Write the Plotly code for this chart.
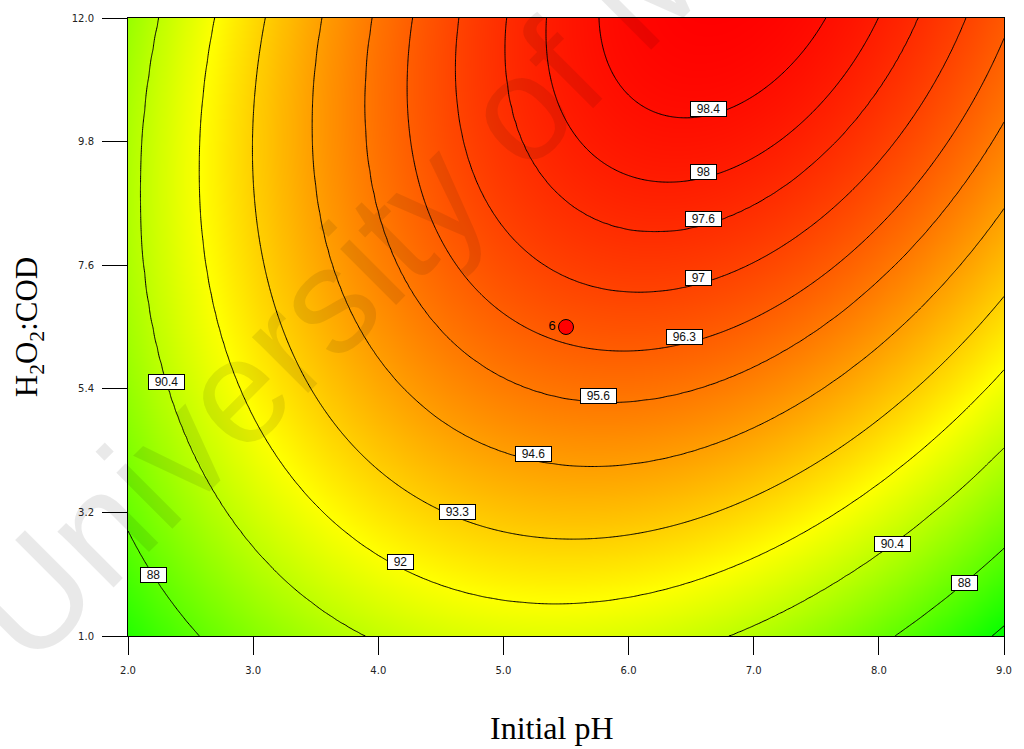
import numpy as np
import plotly.graph_objects as go

# Quadratic response-surface model for removal (%):
# z = b0 + b1*pH + b2*R + b11*pH^2 + b22*R^2 + b12*pH*R   (R = H2O2:COD)
model_terms = ["intercept", "pH", "ratio", "pH^2", "ratio^2", "pH*ratio"]
model_coefs = [78.32, 4.466, 0.818, -0.427, -0.0582, 0.1025]

# Factor ranges
ph_range = [2.0, 9.0]
ratio_range = [1.0, 12.0]

# Contour levels drawn as lines
contour_levels = [85.9, 88.0, 90.4, 92.0, 93.3, 94.6, 95.6, 96.3, 97.0, 97.6, 98.0, 98.4]

# Contour labels: level, anchor axis, anchor value, which crossing
label_levels = [98.4, 98.0, 97.6, 97.0, 96.3, 95.6, 94.6, 93.3, 92.0, 90.4, 88.0, 90.4, 88.0]
label_axis = ["x", "x", "x", "x", "x", "x", "x", "x", "x", "y", "y", "y", "y"]
label_anchor = [6.64, 6.60, 6.60, 6.56, 6.45, 5.76, 5.24, 4.63, 4.18, 5.53, 2.08, 2.63, 1.94]
label_branch = ["low"] * 9 + ["left", "left", "right", "right"]

# Design (centre) point and its replicate count
design_ph = [5.5]
design_ratio = [6.5]
design_reps = ["6"]

x_tick_vals = [2.0, 3.0, 4.0, 5.0, 6.0, 7.0, 8.0, 9.0]
y_tick_vals = [1.0, 3.2, 5.4, 7.6, 9.8, 12.0]

b0, b1, b2, b11, b22, b12 = model_coefs


def response(x, y):
    return b0 + b1 * x + b2 * y + b11 * x ** 2 + b22 * y ** 2 + b12 * x * y


def label_point(level, axis, value, branch):
    if axis == "x":
        x = value
        a, b, c = b22, b2 + b12 * x, b0 + b1 * x + b11 * x ** 2 - level
        d = np.sqrt(b * b - 4 * a * c)
        roots = sorted([(-b + d) / (2 * a), (-b - d) / (2 * a)])
        return x, roots[0]
    y = value
    a, b, c = b11, b1 + b12 * y, b0 + b2 * y + b22 * y ** 2 - level
    d = np.sqrt(b * b - 4 * a * c)
    roots = sorted([(-b + d) / (2 * a), (-b - d) / (2 * a)])
    return (roots[0] if branch == "left" else roots[1]), y


def level_index(z, levels):
    """Piecewise-linear map of z onto level indices (linear beyond both ends)."""
    levels = np.asarray(levels, dtype=float)
    idx = np.arange(len(levels), dtype=float)
    t = np.interp(z, levels, idx)
    lo_slope = 1.0 / (levels[1] - levels[0])
    hi_slope = 1.0 / (levels[-1] - levels[-2])
    t = np.where(z < levels[0], (z - levels[0]) * lo_slope, t)
    t = np.where(z > levels[-1], idx[-1] + (z - levels[-1]) * hi_slope, t)
    return t


xs = np.linspace(ph_range[0], ph_range[1], 211)
ys = np.linspace(ratio_range[0], ratio_range[1], 166)
X, Y = np.meshgrid(xs, ys)
Z = response(X, Y)

fig = go.Figure()

# Colour-filled surface
fig.add_trace(go.Heatmap(
    x=xs, y=ys, z=np.round(Z, 4),
    colorscale=[[0.0, "#00ff00"], [0.49, "#ffff00"], [1.0, "#ff0000"]],
    zsmooth="best", showscale=False, hoverinfo="skip",
))

# Irregular contour levels mapped onto an evenly spaced index so one trace draws them all
T = np.round(level_index(Z, contour_levels), 5)
fig.add_trace(go.Contour(
    x=xs, y=ys, z=T,
    autocontour=False,
    contours=dict(start=0, end=len(contour_levels) - 1, size=1, coloring="none"),
    line=dict(color="black", width=1, smoothing=0.6),
    showscale=False, hoverinfo="skip",
))

# Centre point
fig.add_trace(go.Scatter(
    x=design_ph, y=design_ratio, mode="markers+text",
    text=design_reps, textposition="middle left",
    textfont=dict(family="Liberation Sans", size=13, color="black"),
    marker=dict(size=15, color="#ff0000", line=dict(color="black", width=1)),
    hoverinfo="skip",
))

annotations = []
for level, axis, value, branch in zip(label_levels, label_axis, label_anchor, label_branch):
    px_, py_ = label_point(level, axis, value, branch)
    txt = f"{level:g}"
    annotations.append(dict(
        x=px_, y=py_, xref="x", yref="y", text=txt, showarrow=False,
        font=dict(family="Liberation Sans", size=12, color="#111"),
        bgcolor="white", bordercolor="black", borderwidth=1, borderpad=0,
        width=15 + 5 * len(txt), height=14,
        yshift=6 if branch == "low" else 0,
    ))

# x-axis title
annotations.append(dict(
    text="Initial pH", xref="paper", yref="paper", x=0.484, y=0.0,
    xanchor="center", yanchor="middle", yshift=-92, showarrow=False,
    font=dict(family="Liberation Serif", size=32, color="black"),
))

# Repository watermark
annotations.append(dict(
    text="University of Malaya", xref="paper", yref="paper",
    x=0.391, y=0.775, xanchor="center", yanchor="middle",
    showarrow=False, textangle=-45,
    font=dict(family="Liberation Sans", size=150, color="rgba(0,0,0,0.085)"),
))

axis_common = dict(
    showgrid=False, zeroline=False, showline=True, linecolor="black", linewidth=1,
    mirror=True, ticks="outside", tickcolor="black", tickwidth=1,
    tickfont=dict(family="DejaVu Sans", size=10, color="#222"),
)

fig.update_layout(
    width=1024, height=749,
    margin=dict(l=128, r=18, t=15, b=113),
    paper_bgcolor="white", plot_bgcolor="white",
    showlegend=False,
    annotations=annotations,
    xaxis=dict(
        range=ph_range, tickvals=x_tick_vals,
        ticktext=[f"{v:.1f}" for v in x_tick_vals], ticklen=18,
        ticklabelstandoff=7,
        **axis_common,
    ),
    yaxis=dict(
        range=ratio_range, tickvals=y_tick_vals,
        ticktext=[f"{v:.1f}" for v in y_tick_vals], ticklen=25,
        ticklabelstandoff=6,
        title=dict(text="H<sub>2</sub>O<sub>2</sub>:COD", standoff=24,
                   font=dict(family="Liberation Serif", size=31, color="black")),
        **axis_common,
    ),
)

fig.write_html("out.html")
